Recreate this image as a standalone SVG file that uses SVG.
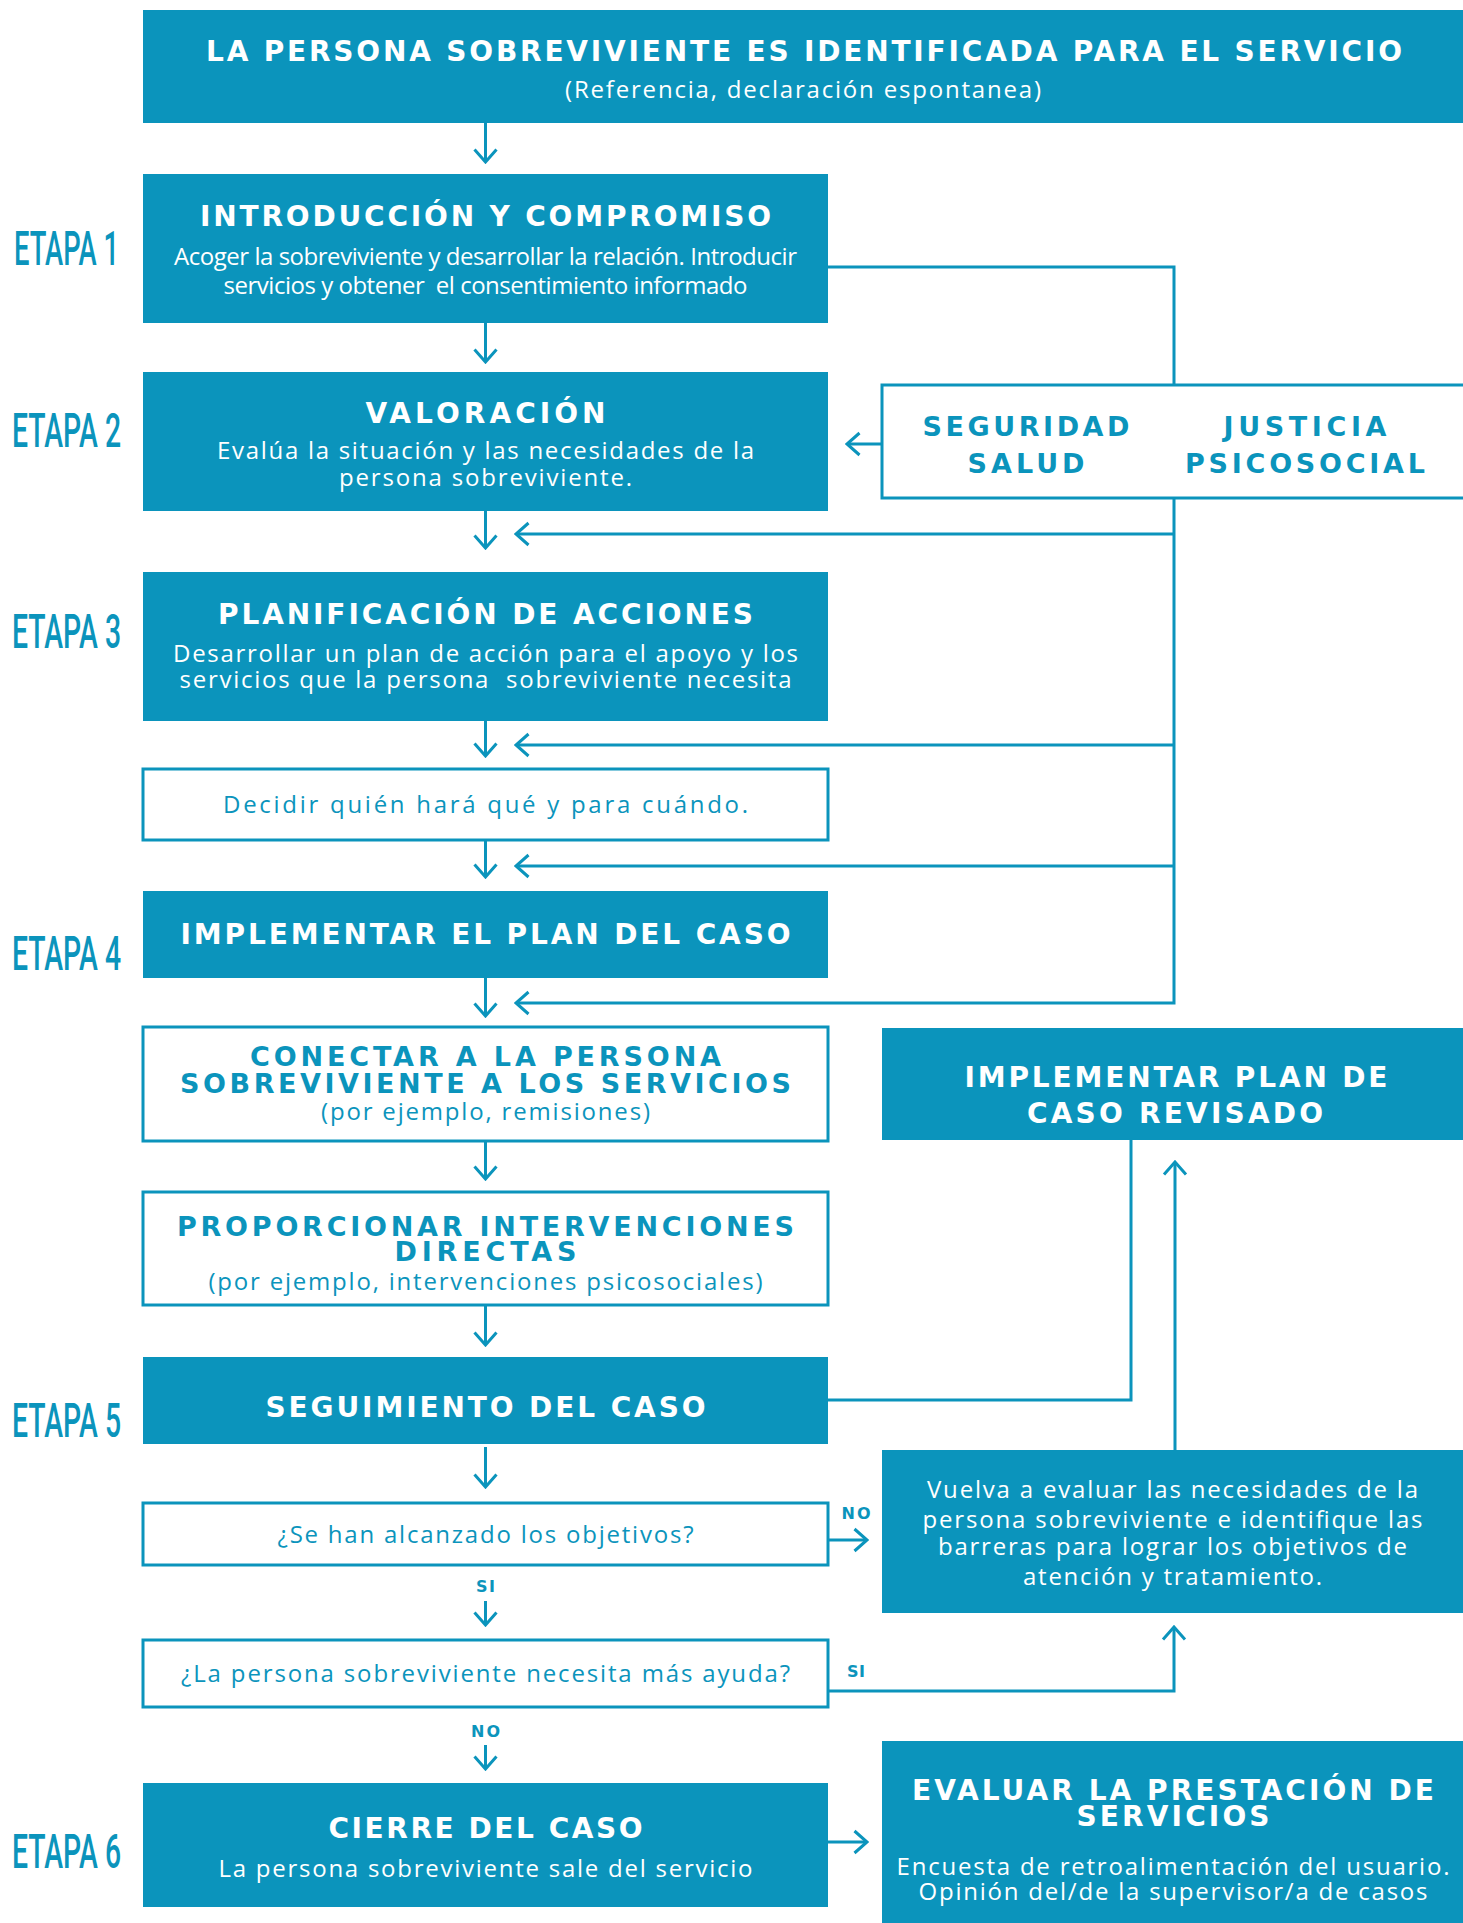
<svg xmlns="http://www.w3.org/2000/svg" width="1463" height="1923" viewBox="0 0 1463 1923">
<defs>
<style>
.fill{fill:#0b94bc}
.wbox{fill:#ffffff;stroke:#0b94bc;stroke-width:3}
.h{font-family:"DejaVu Sans","Open Sans",sans-serif;font-weight:700;font-size:28px;fill:#ffffff;text-anchor:middle}
.hb{font-family:"DejaVu Sans","Open Sans",sans-serif;font-weight:700;font-size:27px;fill:#0b94bc;text-anchor:middle}
.b{font-family:"Open Sans","DejaVu Sans",sans-serif;font-weight:400;font-size:24px;fill:#ffffff;text-anchor:middle}
.bb{font-family:"Open Sans","DejaVu Sans",sans-serif;font-weight:400;font-size:24px;fill:#0b94bc;text-anchor:middle}
.lbl{font-family:"DejaVu Sans","Open Sans",sans-serif;font-weight:700;font-size:16px;fill:#0b94bc;text-anchor:middle}
.etapa{font-family:Roboto,"Liberation Sans",sans-serif;font-weight:500;font-size:48px;fill:#0b94bc}
.ln{fill:none;stroke:#0b94bc;stroke-width:3}
</style>
<marker id="ah" viewBox="0 0 16 26" refX="14" refY="13" markerWidth="16" markerHeight="26" markerUnits="userSpaceOnUse" orient="auto">
<path d="M1.5,2 L14,13 L1.5,24" fill="none" stroke="#0b94bc" stroke-width="3"/>
</marker>
</defs>
<rect width="1463" height="1923" fill="#ffffff"/>

<g id="connectors">
<line class="ln" x1="485.5" y1="123" x2="485.5" y2="162" marker-end="url(#ah)"/>
<line class="ln" x1="485.5" y1="323" x2="485.5" y2="362" marker-end="url(#ah)"/>
<line class="ln" x1="485.5" y1="511" x2="485.5" y2="548" marker-end="url(#ah)"/>
<line class="ln" x1="485.5" y1="721" x2="485.5" y2="756" marker-end="url(#ah)"/>
<line class="ln" x1="485.5" y1="840" x2="485.5" y2="877" marker-end="url(#ah)"/>
<line class="ln" x1="485.5" y1="978" x2="485.5" y2="1016" marker-end="url(#ah)"/>
<line class="ln" x1="485.5" y1="1141" x2="485.5" y2="1179" marker-end="url(#ah)"/>
<line class="ln" x1="485.5" y1="1305" x2="485.5" y2="1345" marker-end="url(#ah)"/>
<line class="ln" x1="485.5" y1="1447" x2="485.5" y2="1487" marker-end="url(#ah)"/>
<line class="ln" x1="485.5" y1="1601" x2="485.5" y2="1625" marker-end="url(#ah)"/>
<line class="ln" x1="485.5" y1="1745" x2="485.5" y2="1769" marker-end="url(#ah)"/>
<polyline class="ln" points="828,267 1174,267 1174,1003 516,1003" marker-end="url(#ah)"/>
<line class="ln" x1="1174" y1="534" x2="516" y2="534" marker-end="url(#ah)"/>
<line class="ln" x1="1174" y1="745" x2="516" y2="745" marker-end="url(#ah)"/>
<line class="ln" x1="1174" y1="866" x2="516" y2="866" marker-end="url(#ah)"/>
<line class="ln" x1="882" y1="444" x2="847" y2="444" marker-end="url(#ah)"/>
<polyline class="ln" points="828,1400 1131,1400 1131,1140"/>
<line class="ln" x1="1175" y1="1450" x2="1175" y2="1162" marker-end="url(#ah)"/>
<line class="ln" x1="828" y1="1540" x2="867" y2="1540" marker-end="url(#ah)"/>
<polyline class="ln" points="828,1691 1174,1691 1174,1627" marker-end="url(#ah)"/>
<line class="ln" x1="828" y1="1842" x2="867" y2="1842" marker-end="url(#ah)"/>
<text class="lbl" x="856" y="1519" textLength="29">NO</text>
<text class="lbl" x="485.5" y="1592" textLength="19">SI</text>
<text class="lbl" x="856" y="1677" textLength="18">SI</text>
<text class="lbl" x="485.5" y="1737" textLength="29">NO</text>
</g>

<g id="etapas">
<text class="etapa" x="14" y="265" textLength="105" lengthAdjust="spacingAndGlyphs">ETAPA 1</text>
<text class="etapa" x="12" y="447" textLength="109" lengthAdjust="spacingAndGlyphs">ETAPA 2</text>
<text class="etapa" x="12" y="648" textLength="109" lengthAdjust="spacingAndGlyphs">ETAPA 3</text>
<text class="etapa" x="12" y="970" textLength="109" lengthAdjust="spacingAndGlyphs">ETAPA 4</text>
<text class="etapa" x="12" y="1437" textLength="109" lengthAdjust="spacingAndGlyphs">ETAPA 5</text>
<text class="etapa" x="12" y="1868" textLength="109" lengthAdjust="spacingAndGlyphs">ETAPA 6</text>
</g>

<g id="n-identificada">
<rect class="fill" x="143" y="10" width="1320" height="113"/>
<text class="h" x="804" y="61" font-size="29" textLength="1196">LA PERSONA SOBREVIVIENTE ES IDENTIFICADA PARA EL SERVICIO</text>
<text class="b" x="803" y="98" textLength="476">(Referencia, declaración espontanea)</text>
</g>

<g id="n-introduccion">
<rect class="fill" x="143" y="174" width="685" height="149"/>
<text class="h" x="485.5" y="226" textLength="571">INTRODUCCIÓN Y COMPROMISO</text>
<text class="b" x="485.5" y="265" textLength="623">Acoger la sobreviviente y desarrollar la relación. Introducir</text>
<text class="b" x="485.5" y="294" textLength="524" xml:space="preserve">servicios y obtener  el consentimiento informado</text>
</g>

<g id="n-valoracion">
<rect class="fill" x="143" y="372" width="685" height="139"/>
<text class="h" x="485.5" y="423" textLength="240">VALORACIÓN</text>
<text class="b" x="485.5" y="459" textLength="537">Evalúa la situación y las necesidades de la</text>
<text class="b" x="485.5" y="486" textLength="293">persona sobreviviente.</text>
</g>

<g id="n-areas">
<rect class="wbox" x="882" y="385" width="590" height="113"/>
<text class="hb" x="1026" y="436" font-size="28" textLength="207">SEGURIDAD</text>
<text class="hb" x="1026" y="473" font-size="28" textLength="117">SALUD</text>
<text class="hb" x="1305" y="436" font-size="28" textLength="163">JUSTICIA</text>
<text class="hb" x="1305" y="473" font-size="28" textLength="240">PSICOSOCIAL</text>
</g>

<g id="n-planificacion">
<rect class="fill" x="143" y="572" width="685" height="149"/>
<text class="h" x="485.5" y="624" textLength="535">PLANIFICACIÓN DE ACCIONES</text>
<text class="b" x="485.5" y="662" textLength="625">Desarrollar un plan de acción para el apoyo y los</text>
<text class="b" x="485.5" y="688" textLength="612" xml:space="preserve">servicios que la persona  sobreviviente necesita</text>
</g>

<g id="n-decidir">
<rect class="wbox" x="143" y="769" width="685" height="71"/>
<text class="bb" x="485.5" y="813" textLength="525">Decidir quién hará qué y para cuándo.</text>
</g>

<g id="n-implementar">
<rect class="fill" x="143" y="891" width="685" height="87"/>
<text class="h" x="485.5" y="944" textLength="610">IMPLEMENTAR EL PLAN DEL CASO</text>
</g>

<g id="n-conectar">
<rect class="wbox" x="143" y="1027" width="685" height="114"/>
<text class="hb" x="485.5" y="1066" textLength="471">CONECTAR A LA PERSONA</text>
<text class="hb" x="485.5" y="1093" textLength="611">SOBREVIVIENTE A LOS SERVICIOS</text>
<text class="bb" x="485.5" y="1120" textLength="329">(por ejemplo, remisiones)</text>
</g>

<g id="n-revisado">
<rect class="fill" x="882" y="1028" width="581" height="112"/>
<text class="h" x="1176" y="1087" textLength="423">IMPLEMENTAR PLAN DE</text>
<text class="h" x="1175" y="1123" textLength="296">CASO REVISADO</text>
</g>

<g id="n-proporcionar">
<rect class="wbox" x="143" y="1192" width="685" height="113"/>
<text class="hb" x="485.5" y="1236" textLength="617">PROPORCIONAR INTERVENCIONES</text>
<text class="hb" x="485.5" y="1261" textLength="182">DIRECTAS</text>
<text class="bb" x="485.5" y="1290" textLength="554">(por ejemplo, intervenciones psicosociales)</text>
</g>

<g id="n-seguimiento">
<rect class="fill" x="143" y="1357" width="685" height="87"/>
<text class="h" x="485.5" y="1417" textLength="440">SEGUIMIENTO DEL CASO</text>
</g>

<g id="n-vuelva">
<rect class="fill" x="882" y="1450" width="581" height="163"/>
<text class="b" x="1172.5" y="1498" textLength="491">Vuelva a evaluar las necesidades de la</text>
<text class="b" x="1172.5" y="1528" textLength="500">persona sobreviviente e identifique las</text>
<text class="b" x="1172.5" y="1555" textLength="469">barreras para lograr los objetivos de</text>
<text class="b" x="1172.5" y="1585" textLength="299">atención y tratamiento.</text>
</g>

<g id="n-objetivos">
<rect class="wbox" x="143" y="1503" width="685" height="62"/>
<text class="bb" x="485.5" y="1543" textLength="416">¿Se han alcanzado los objetivos?</text>
</g>

<g id="n-ayuda">
<rect class="wbox" x="143" y="1640" width="685" height="67"/>
<text class="bb" x="485.5" y="1682" textLength="609">¿La persona sobreviviente necesita más ayuda?</text>
</g>

<g id="n-cierre">
<rect class="fill" x="143" y="1783" width="685" height="124"/>
<text class="h" x="485.5" y="1838" textLength="314">CIERRE DEL CASO</text>
<text class="b" x="485.5" y="1877" textLength="534">La persona sobreviviente sale del servicio</text>
</g>

<g id="n-evaluar">
<rect class="fill" x="882" y="1741" width="581" height="182"/>
<text class="h" x="1173" y="1800" textLength="522">EVALUAR LA PRESTACIÓN DE</text>
<text class="h" x="1173" y="1826" textLength="193">SERVICIOS</text>
<text class="b" x="1173" y="1875" textLength="553">Encuesta de retroalimentación del usuario.</text>
<text class="b" x="1173" y="1900" textLength="509">Opinión del/de la supervisor/a de casos</text>
</g>
</svg>
